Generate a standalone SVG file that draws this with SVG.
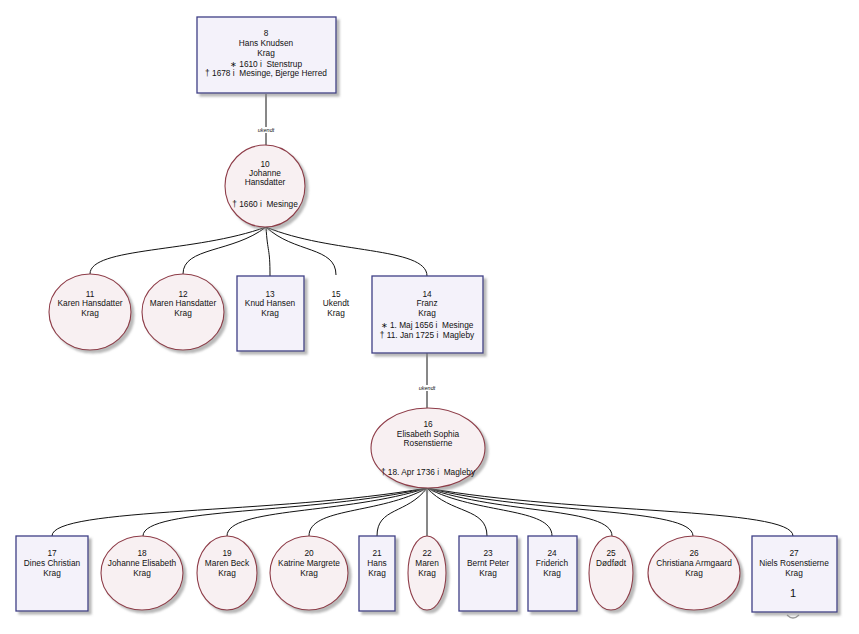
<svg xmlns="http://www.w3.org/2000/svg" width="859" height="634" viewBox="0 0 859 634">
<defs>
<filter id="sh" x="-10%" y="-10%" width="130%" height="130%">
<feDropShadow dx="3" dy="3" stdDeviation="1.2" flood-color="#8a8a8a" flood-opacity="0.6"/>
</filter>
<style>
.box{fill:#f4f2fa;stroke:#3f3f86;stroke-width:1.3;filter:url(#sh)}
.ell{fill:#f8f0f2;stroke:#8e3c48;stroke-width:1.1;filter:url(#sh)}
text{font-family:"Liberation Sans",Arial,sans-serif;font-size:8.3px;fill:#111;text-anchor:middle;white-space:pre}
.lbl{font-size:5.5px;font-style:italic}
.big{font-size:11px}
.con path,.con line{fill:none;stroke:#111;stroke-width:1}
</style>
</defs>
<rect width="859" height="634" fill="#fff"/>

<g class="con" id="connectors">
<line x1="266" y1="94" x2="266" y2="145"/>
<line x1="427" y1="353" x2="427" y2="408"/>
<path d="M266,227 C195.6,252.9 90,246.8 90,274"/>
<path d="M266,227 C232.8,252.9 183,246.8 183,274"/>
<path d="M266,227 C267.6,254 270,246.6 270,276"/>
<path d="M266,227 C294,253.4 336,246.2 336,275"/>
<path d="M266,227 C330.4,254 427,246.6 427,276"/>
<path d="M427,488 C277,514.4 52,507.2 52,536"/>
<path d="M427,488 C313.4,514.4 143,507.2 143,536"/>
<path d="M427,488 C347,514.4 227,507.2 227,536"/>
<path d="M427,488 C379.8,514.4 309,507.2 309,536"/>
<path d="M427,488 C407,514.4 377,507.2 377,536"/>
<line x1="427" y1="488" x2="427" y2="536"/>
<path d="M427,488 C451,514.4 487,507.2 487,536"/>
<path d="M427,488 C477,514.4 552,507.2 552,536"/>
<path d="M427,488 C501,514.4 612,507.2 612,536"/>
<path d="M427,488 C533.4,514.4 693,507.2 693,536"/>
<path d="M427,488 C573.4,514.4 793,507.2 793,536"/>
<rect x="254" y="127" width="24" height="6" fill="#fff"/>
<text class="lbl" x="266" y="132">ukendt</text>
<rect x="415" y="385" width="24" height="6" fill="#fff"/>
<text class="lbl" x="427" y="390">ukendt</text>
<path d="M787,615 Q793,621 799,615" style="stroke:#999;stroke-width:1.2"/>
</g>

<g id="n8">
<rect class="box" x="197" y="17" width="139" height="76"/>
<text x="266" y="36">8</text>
<text x="266" y="46">Hans Knudsen</text>
<text x="266" y="56">Krag</text>
<text x="266" y="67">∗ 1610 i  Stenstrup</text>
<text x="266" y="76">† 1678 i  Mesinge, Bjerge Herred</text>
</g>

<g id="n10">
<ellipse class="ell" cx="265" cy="186" rx="40" ry="41"/>
<text x="265" y="167">10</text>
<text x="265" y="176">Johanne</text>
<text x="265" y="185">Hansdatter</text>
<text x="265" y="207">† 1660 i  Mesinge</text>
</g>

<g id="n11">
<ellipse class="ell" cx="90" cy="312" rx="41" ry="38"/>
<text x="90" y="297">11</text>
<text x="90" y="306">Karen Hansdatter</text>
<text x="90" y="316">Krag</text>
</g>
<g id="n12">
<ellipse class="ell" cx="183" cy="312" rx="41" ry="38"/>
<text x="183" y="297">12</text>
<text x="183" y="306">Maren Hansdatter</text>
<text x="183" y="316">Krag</text>
</g>
<g id="n13">
<rect class="box" x="237" y="276" width="67" height="75"/>
<text x="270" y="297">13</text>
<text x="270" y="306">Knud Hansen</text>
<text x="270" y="316">Krag</text>
</g>
<g id="n15">
<text x="336" y="297">15</text>
<text x="336" y="306">Ukendt</text>
<text x="336" y="316">Krag</text>
</g>
<g id="n14">
<rect class="box" x="372" y="276" width="111" height="77"/>
<text x="427" y="297">14</text>
<text x="427" y="306">Franz</text>
<text x="427" y="316">Krag</text>
<text x="427" y="328">∗ 1. Maj 1656 i  Mesinge</text>
<text x="427" y="338">† 11. Jan 1725 i  Magleby</text>
</g>

<g id="n16">
<ellipse class="ell" cx="428" cy="448" rx="57" ry="40"/>
<text x="428" y="427">16</text>
<text x="428" y="437">Elisabeth Sophia</text>
<text x="428" y="446">Rosenstierne</text>
<text x="428" y="475">† 18. Apr 1736 i  Magleby</text>
</g>

<g id="n17">
<rect class="box" x="16" y="536" width="72" height="75"/>
<text x="52" y="556">17</text>
<text x="52" y="566">Dines Christian</text>
<text x="52" y="576">Krag</text>
</g>
<g id="n18">
<ellipse class="ell" cx="142" cy="573" rx="41" ry="37"/>
<text x="142" y="556">18</text>
<text x="142" y="566">Johanne Elisabeth</text>
<text x="142" y="576">Krag</text>
</g>
<g id="n19">
<ellipse class="ell" cx="227" cy="573" rx="30" ry="37"/>
<text x="227" y="556">19</text>
<text x="227" y="566">Maren Beck</text>
<text x="227" y="576">Krag</text>
</g>
<g id="n20">
<ellipse class="ell" cx="309" cy="573" rx="39" ry="37"/>
<text x="309" y="556">20</text>
<text x="309" y="566">Katrine Margrete</text>
<text x="309" y="576">Krag</text>
</g>
<g id="n21">
<rect class="box" x="359" y="536" width="36" height="75"/>
<text x="377" y="556">21</text>
<text x="377" y="566">Hans</text>
<text x="377" y="576">Krag</text>
</g>
<g id="n22">
<ellipse class="ell" cx="427" cy="573" rx="19" ry="37"/>
<text x="427" y="556">22</text>
<text x="427" y="566">Maren</text>
<text x="427" y="576">Krag</text>
</g>
<g id="n23">
<rect class="box" x="459" y="536" width="58" height="75"/>
<text x="488" y="556">23</text>
<text x="488" y="566">Bernt Peter</text>
<text x="488" y="576">Krag</text>
</g>
<g id="n24">
<rect class="box" x="528" y="536" width="49" height="75"/>
<text x="552" y="556">24</text>
<text x="552" y="566">Friderich</text>
<text x="552" y="576">Krag</text>
</g>
<g id="n25">
<ellipse class="ell" cx="611" cy="573" rx="22" ry="37"/>
<text x="611" y="556">25</text>
<text x="611" y="566">Dødfødt</text>
</g>
<g id="n26">
<ellipse class="ell" cx="694" cy="573" rx="46" ry="37"/>
<text x="694" y="556">26</text>
<text x="694" y="566">Christiana Armgaard</text>
<text x="694" y="576">Krag</text>
</g>
<g id="n27">
<rect class="box" x="752" y="536" width="85" height="76"/>
<text x="794" y="556">27</text>
<text x="794" y="566">Niels Rosenstierne</text>
<text x="794" y="576">Krag</text>
<text class="big" x="793" y="597">1</text>
</g>
</svg>
